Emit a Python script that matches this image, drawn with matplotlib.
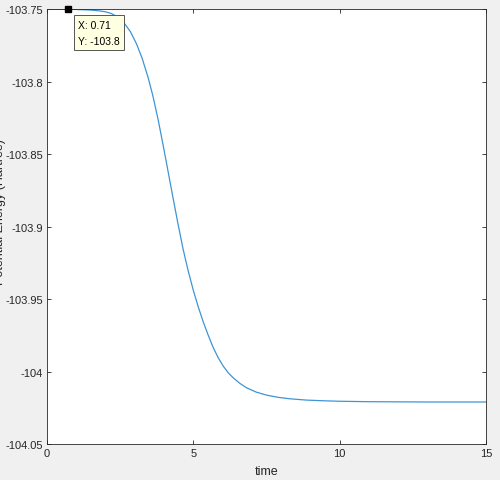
import matplotlib
matplotlib.use("Agg")
import matplotlib.pyplot as plt

# values
time = [0.0, 0.5, 1.0, 1.5, 1.8, 2.0, 2.2, 2.4, 2.61, 2.85, 3.06, 3.25, 3.46, 3.62, 3.8,
        3.96, 4.13, 4.30, 4.47, 4.65, 4.82, 5.0, 5.17, 5.34, 5.5, 5.68, 5.85, 6.02, 6.2,
        6.37, 6.6, 6.82, 7.15, 7.51, 7.9, 8.3, 8.87, 9.5, 10.0, 11.0, 12.0, 13.0, 14.0,
        15.0]
energy = [-103.7500, -103.7500, -103.7502, -103.7506, -103.7512, -103.7518, -103.7530,
          -103.7552, -103.7588, -103.7655, -103.7740, -103.7838, -103.7975, -103.8100,
          -103.8265, -103.8430, -103.8612, -103.8795, -103.8975, -103.9155, -103.9302,
          -103.9440, -103.9555, -103.9658, -103.9745, -103.9835, -103.9905, -103.9962,
          -104.0010, -104.0045, -104.0083, -104.0112, -104.0142, -104.0163, -104.0178,
          -104.0188, -104.0197, -104.0202, -104.0205, -104.0208, -104.0209, -104.0210,
          -104.0210, -104.0210]
tip_x, tip_y = 0.71, -103.75
xticks = [0, 5, 10, 15]
yticks = [-104.05, -104.0, -103.95, -103.9, -103.85, -103.8, -103.75]
ytick_labels = ["-104.05", "-104", "-103.95", "-103.9", "-103.85", "-103.8", "-103.75"]

plt.rcParams["font.family"] = ["Liberation Sans", "DejaVu Sans"]
plt.rcParams["font.size"] = 8

fig = plt.figure(figsize=(5, 4.81), dpi=100, facecolor="#f0f0f0")
ax = fig.add_axes([0.094, 0.0748, 0.878, 0.904])
ax.plot(time, energy, color="#3d95d6", linewidth=0.9)
ax.plot([tip_x], [tip_y], marker="s", color="black", markersize=5, clip_on=False, zorder=5)

ax.set_xlim(0, 15)
ax.set_ylim(-104.05, -103.75)
ax.set_xticks(xticks)
ax.set_yticks(yticks)
ax.set_yticklabels(ytick_labels)
ax.tick_params(direction="in", top=True, right=True, length=3, width=0.6,
               color="#262626", labelcolor="#262626", pad=3)
for s in ax.spines.values():
    s.set_color("#262626")
    s.set_linewidth(0.6)

ax.set_xlabel("time", fontsize=9, color="#262626", labelpad=5)
fig.text(-0.012, 0.56, "Potential Energy (Hartree)", rotation=90, fontsize=9,
         color="#262626", ha="left", va="center")

ax.annotate("X: 0.71\nY: -103.8", xy=(tip_x, tip_y), xytext=(7.5, -7.5),
            textcoords="offset points", fontsize=7.5, va="top", ha="left",
            linespacing=1.8, zorder=6,
            bbox=dict(boxstyle="square,pad=0.4", fc="#ffffe1", ec="#555555", lw=0.7))

fig.savefig("out.png", dpi=100, facecolor=fig.get_facecolor())
